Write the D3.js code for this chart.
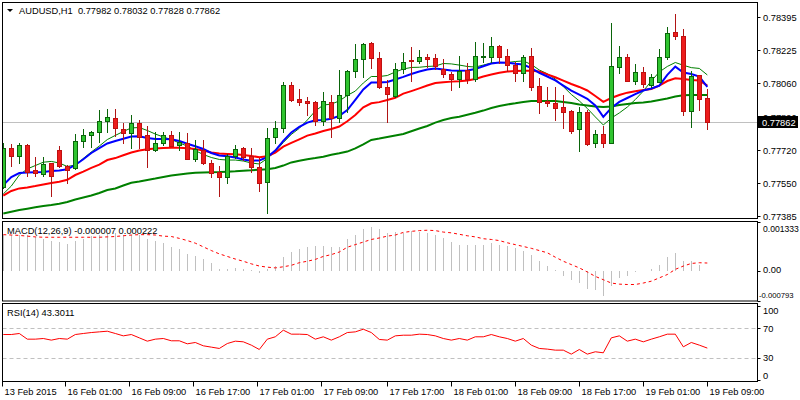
<!DOCTYPE html>
<html><head><meta charset="utf-8">
<script src="https://cdn.jsdelivr.net/npm/d3@7"></script>
<style>
body{margin:0;background:#fff}
svg{display:block}
text{font-family:"Liberation Sans",Arial,sans-serif;font-size:9.3px;fill:#000;white-space:pre}
</style>
</head><body>
<svg id="c" width="800" height="400"></svg>
<script>
// ---------- DATA ----------
const symbol = "AUDUSD,H1";
const lastOHLC = ["0.77982","0.78032","0.77828","0.77862"];
const macdTitle = "MACD(12,26,9) -0.000007 0.000222";
const rsiTitle = "RSI(14) 43.3011";

const open = [0.77532,0.77730,0.77691,0.77745,0.77619,0.77597,0.77652,0.77720,0.77640,0.77627,
0.77764,0.77796,0.77813,0.77867,0.77882,0.77827,0.77805,0.77856,0.77796,0.77720,
0.77758,0.77796,0.77744,0.77754,0.77676,0.77720,0.77652,0.77610,0.77582,0.77691,
0.77729,0.77691,0.77632,0.77556,0.77788,0.77830,0.78050,0.77979,0.77969,0.77965,
0.77869,0.77965,0.77881,0.77999,0.78121,0.78180,0.78261,0.78185,0.78038,0.77994,
0.78130,0.78178,0.78173,0.78190,0.78185,0.78130,0.78106,0.78080,0.78126,0.78079,
0.78190,0.78193,0.78248,0.78197,0.78151,0.78112,0.78197,0.78045,0.77970,0.77960,
0.77940,0.77918,0.77827,0.77913,0.77757,0.77800,0.77758,0.78140,0.78190,0.78072,
0.78114,0.78050,0.78067,0.78193,0.78317,0.78299,0.77920,0.78099,0.77982];
const high = [0.77756,0.77751,0.77754,0.77751,0.77684,0.77686,0.77654,0.77740,0.77646,0.77801,
0.77827,0.77816,0.77923,0.77928,0.77928,0.77856,0.77898,0.77872,0.77842,0.77811,
0.77813,0.77816,0.77813,0.77808,0.77771,0.77771,0.77669,0.77639,0.77700,0.77745,
0.77734,0.77729,0.77679,0.77830,0.77869,0.78067,0.78067,0.78028,0.77990,0.77970,
0.78016,0.77999,0.78126,0.78126,0.78258,0.78261,0.78267,0.78216,0.78075,0.78163,
0.78214,0.78241,0.78227,0.78207,0.78207,0.78180,0.78116,0.78197,0.78163,0.78268,
0.78261,0.78292,0.78253,0.78231,0.78168,0.78202,0.78236,0.78084,0.78038,0.78038,
0.77999,0.77923,0.77940,0.77923,0.77822,0.77842,0.78366,0.78248,0.78207,0.78155,
0.78143,0.78106,0.78233,0.78346,0.78410,0.78333,0.78122,0.78101,0.78032];
const low = [0.77527,0.77640,0.77652,0.77590,0.77588,0.77590,0.77488,0.77632,0.77554,0.77624,
0.77737,0.77737,0.77762,0.77810,0.77793,0.77754,0.77732,0.77730,0.77635,0.77715,
0.77745,0.77738,0.77720,0.77672,0.77666,0.77649,0.77582,0.77488,0.77554,0.77678,
0.77669,0.77610,0.77513,0.77399,0.77754,0.77813,0.77969,0.77948,0.77898,0.77847,
0.77847,0.77785,0.77864,0.77914,0.78092,0.78089,0.78138,0.78035,0.77864,0.77989,
0.78109,0.78072,0.78160,0.78140,0.78130,0.78092,0.78024,0.78038,0.78058,0.78072,
0.78168,0.78168,0.78160,0.78122,0.78072,0.78072,0.78024,0.77909,0.77943,0.77872,
0.77830,0.77808,0.77717,0.77745,0.77734,0.77734,0.77756,0.78112,0.78070,0.78055,
0.78038,0.78040,0.78065,0.78180,0.78283,0.77898,0.77838,0.77923,0.77828];
const close = [0.77730,0.77691,0.77745,0.77608,0.77605,0.77647,0.77590,0.77640,0.77621,0.77764,
0.77796,0.77813,0.77867,0.77886,0.77830,0.77805,0.77856,0.77788,0.77720,0.77754,
0.77796,0.77742,0.77761,0.77673,0.77724,0.77652,0.77605,0.77585,0.77691,0.77724,
0.77683,0.77632,0.77551,0.77779,0.77830,0.78050,0.77974,0.77965,0.77957,0.77869,
0.77969,0.77881,0.77999,0.78121,0.78180,0.78256,0.78185,0.78038,0.78003,0.78130,
0.78168,0.78173,0.78190,0.78180,0.78146,0.78104,0.78080,0.78122,0.78080,0.78197,
0.78197,0.78248,0.78193,0.78150,0.78112,0.78193,0.78041,0.77965,0.77957,0.77935,
0.77914,0.77818,0.77911,0.77749,0.77800,0.77754,0.78146,0.78190,0.78072,0.78114,
0.78053,0.78092,0.78190,0.78312,0.78300,0.77920,0.78096,0.77977,0.77862];

const maBlue = [0.77542,0.77583,0.77603,0.77606,0.77607,0.77608,0.77613,0.77616,0.77622,0.77644,
0.77673,0.77705,0.77730,0.77753,0.77766,0.77777,0.77788,0.77790,0.77781,0.77776,
0.77776,0.77775,0.77766,0.77752,0.77739,0.77725,0.77705,0.77692,0.77688,0.77682,
0.77672,0.77666,0.77667,0.77684,0.77717,0.77766,0.77809,0.77837,0.77859,0.77871,
0.77872,0.77879,0.77893,0.77923,0.77974,0.78027,0.78063,0.78062,0.78065,0.78078,
0.78091,0.78106,0.78118,0.78129,0.78133,0.78129,0.78124,0.78122,0.78124,0.78131,
0.78145,0.78159,0.78164,0.78163,0.78158,0.78154,0.78136,0.78111,0.78093,0.78073,
0.78047,0.78021,0.78001,0.77980,0.77946,0.77888,0.77933,0.77964,0.77984,0.78004,
0.78022,0.78032,0.78047,0.78101,0.78143,0.78113,0.78106,0.78093,0.78040];
const maRed = [0.77489,0.77512,0.77525,0.77530,0.77537,0.77545,0.77553,0.77559,0.77569,0.77593,
0.77610,0.77629,0.77646,0.77669,0.77679,0.77693,0.77707,0.77717,0.77724,0.77727,
0.77730,0.77732,0.77732,0.77729,0.77725,0.77717,0.77707,0.77702,0.77700,0.77698,
0.77695,0.77690,0.77683,0.77688,0.77707,0.77737,0.77756,0.77774,0.77793,0.77804,
0.77816,0.77827,0.77839,0.77866,0.77898,0.77937,0.77957,0.77963,0.77974,0.77985,
0.78006,0.78019,0.78033,0.78047,0.78060,0.78064,0.78067,0.78069,0.78073,0.78080,
0.78093,0.78103,0.78112,0.78118,0.78121,0.78122,0.78122,0.78118,0.78104,0.78089,
0.78072,0.78055,0.78040,0.78022,0.77994,0.77964,0.77984,0.77999,0.78011,0.78018,
0.78024,0.78030,0.78047,0.78070,0.78084,0.78080,0.78075,0.78073,0.78047];
const maDarkGreen = [0.77398,0.77407,0.77415,0.77422,0.77429,0.77436,0.77441,0.77447,0.77456,0.77469,
0.77479,0.77489,0.77502,0.77517,0.77525,0.77540,0.77554,0.77560,0.77568,0.77575,
0.77583,0.77590,0.77596,0.77601,0.77605,0.77606,0.77607,0.77608,0.77610,0.77612,
0.77615,0.77617,0.77620,0.77622,0.77629,0.77641,0.77657,0.77665,0.77673,0.77679,
0.77686,0.77696,0.77703,0.77712,0.77728,0.77748,0.77771,0.77778,0.77786,0.77794,
0.77801,0.77815,0.77829,0.77842,0.77859,0.77872,0.77882,0.77889,0.77899,0.77909,
0.77920,0.77933,0.77943,0.77951,0.77957,0.77964,0.77969,0.77969,0.77969,0.77969,
0.77964,0.77958,0.77951,0.77946,0.77941,0.77938,0.77941,0.77948,0.77953,0.77958,
0.77961,0.77966,0.77974,0.77981,0.77991,0.77998,0.77999,0.77999,0.77999];
const maThinGreen = [0.77497,0.77537,0.77593,0.77624,0.77641,0.77658,0.77662,0.77654,0.77636,0.77644,
0.77677,0.77710,0.77740,0.77773,0.77794,0.77814,0.77832,0.77834,0.77819,0.77801,
0.77786,0.77773,0.77756,0.77740,0.77717,0.77697,0.77682,0.77672,0.77669,0.77669,
0.77664,0.77654,0.77649,0.77677,0.77712,0.77758,0.77799,0.77830,0.77872,0.77918,
0.77948,0.77953,0.77969,0.77997,0.78019,0.78060,0.78093,0.78093,0.78098,0.78116,
0.78131,0.78139,0.78140,0.78144,0.78146,0.78159,0.78157,0.78151,0.78144,0.78141,
0.78151,0.78162,0.78164,0.78164,0.78169,0.78172,0.78154,0.78126,0.78107,0.78080,
0.78042,0.78002,0.77969,0.77931,0.77888,0.77847,0.77882,0.77908,0.77938,0.77976,
0.78019,0.78070,0.78116,0.78144,0.78164,0.78150,0.78138,0.78134,0.78101];

const macdHist = [0.00097,0.00099,0.00099,0.00097,0.00092,0.00086,0.00083,0.00079,0.00074,0.00083,
0.00088,0.00095,0.00097,0.00101,0.00104,0.00099,0.00099,0.00097,0.00086,0.00081,
0.00077,0.00066,0.00061,0.00047,0.00041,0.00032,0.00021,0.00007,0.00007,0.00009,
0.00005,0.00002,-0.00006,0.00007,0.00014,0.00038,0.00052,0.00061,0.00065,0.00068,
0.00069,0.00065,0.00065,0.00086,0.00099,0.00115,0.00120,0.00113,0.00104,0.00106,
0.00104,0.00108,0.00106,0.00104,0.00097,0.00090,0.00079,0.00070,0.00070,0.00070,
0.00070,0.00077,0.00072,0.00068,0.00063,0.00056,0.00043,0.00027,0.00014,0.00002,
-0.00012,-0.00025,-0.00032,-0.00047,-0.00050,-0.00068,-0.00041,-0.00018,-0.00012,-0.00001,
0.00001,0.00005,0.00018,0.00038,0.00050,0.00029,0.00029,0.00016,-0.000007];
const macdSignal = [0.00099,0.00098,0.00097,0.00095,0.00093,0.00092,0.00092,0.00092,0.00092,0.00092,
0.00092,0.00092,0.00092,0.00093,0.00094,0.00096,0.00098,0.00099,0.00099,0.00098,
0.00095,0.00094,0.00089,0.00083,0.00076,0.00066,0.00056,0.00047,0.00040,0.00033,
0.00027,0.00020,0.00014,0.00011,0.00009,0.00012,0.00016,0.00023,0.00027,0.00032,
0.00040,0.00045,0.00052,0.00065,0.00072,0.00079,0.00086,0.00090,0.00095,0.00098,
0.00105,0.00108,0.00110,0.00111,0.00110,0.00106,0.00104,0.00100,0.00096,0.00093,
0.00088,0.00086,0.00083,0.00077,0.00072,0.00067,0.00062,0.00056,0.00050,0.00038,
0.00027,0.00018,0.00009,-0.00002,-0.00014,-0.00023,-0.00032,-0.00035,-0.00036,-0.00036,
-0.00032,-0.00027,-0.00018,-0.00009,0.00005,0.00014,0.00021,0.00023,0.000222];
const rsi = [61.7,61.7,63.1,55.4,55.4,56.3,54.1,56.3,55.4,61.7,
63.1,64.4,65.3,66.2,63.1,59.9,61.7,57.2,52.7,55.4,
56.3,53.2,53.2,49.1,50.9,46.4,44.6,42.8,49.5,52.7,
51.8,47.3,41.4,55.4,58.6,67.6,62.2,62.2,61.7,55.4,
58.6,54.1,58.6,64.4,65.3,68.9,64.4,55.0,54.1,59.9,
60.8,60.8,62.2,61.7,59.9,56.3,54.1,56.3,54.1,58.6,
58.6,61.7,58.6,56.3,52.7,56.3,47.3,42.8,41.9,40.5,
40.5,35.1,41.4,35.1,38.3,36.9,57.2,59.9,52.7,55.4,
51.8,55.4,58.6,62.2,62.2,45.0,50.9,47.3,43.3011];

const priceTicks = [0.78395,0.78225,0.78060,0.77890,0.77720,0.77550,0.77385];
const priceTickLabels = ["0.78395","0.78225","0.78060","0.77890","0.77720","0.77550","0.77385"];
const macdRange = [-0.000793, 0.001333];
const macdTickLabels = ["0.001333","0.00","-0.000793"];
const rsiTicks = [100,70,30,0];
const rsiLevels = [70,30];
const timeTickBars = [0,8,16,24,32,40,48,56,64,72,80,88];
const timeTickLabels = ["13 Feb 2015","16 Feb 01:00","16 Feb 09:00","16 Feb 17:00","17 Feb 01:00","17 Feb 09:00",
"17 Feb 17:00","18 Feb 01:00","18 Feb 09:00","18 Feb 17:00","19 Feb 01:00","19 Feb 09:00"];

// ---------- LAYOUT ----------
const svg = d3.select("#c");
const L = 2.5, R = 757.5;
const P = {main:[2.5,218.5], macd:[221.5,301], rsi:[303.5,381.5]};
const n = open.length;
const x = d3.scaleLinear().domain([0, n-1]).range([3.3, 707.3]);
const y = d3.scaleLinear().domain([0.77385,0.78395]).range([216,17]);
const ym = d3.scaleLinear().domain(macdRange).range([300.5,222]);
const yr = d3.scaleLinear().domain([0,100]).range([380,306.3]);
const cx = i => Math.round(x(i));
const sn = v => Math.round(v) + 0.5;

const defs = svg.append("defs");
Object.entries(P).forEach(([k,[t,b]]) => {
  defs.append("clipPath").attr("id","clip-"+k).append("rect")
    .attr("x",L+0.5).attr("y",t+0.5).attr("width",R-L-1).attr("height",b-t-1);
});

// ---------- MAIN PANEL ----------
const gm = svg.append("g").attr("clip-path","url(#clip-main)");
gm.append("line").attr("x1",L).attr("x2",R)
  .attr("y1",sn(y(close[n-1]))).attr("y2",sn(y(close[n-1])))
  .attr("stroke","#c0c0c0").attr("stroke-width",1);

const line = (arr, ys) => d3.line().x((d,i)=>x(i)).y(d=>ys(d))(arr);
gm.append("path").attr("d",line(maDarkGreen,y)).attr("fill","none").attr("stroke","#008000").attr("stroke-width",2);
gm.append("path").attr("d",line(maThinGreen,y)).attr("fill","none").attr("stroke","#008000").attr("stroke-width",1);
gm.append("path").attr("d",line(maRed,y)).attr("fill","none").attr("stroke","#ff0000").attr("stroke-width",2);
gm.append("path").attr("d",line(maBlue,y)).attr("fill","none").attr("stroke","#0000ff").attr("stroke-width",2);

const candles = gm.append("g");
d3.range(n).forEach(i => {
  const up = close[i] >= open[i];
  const c = cx(i);
  const wick = up ? "#0a640a" : "#b01414";
  candles.append("line").attr("x1",c+0.5).attr("x2",c+0.5)
    .attr("y1",Math.round(y(high[i]))).attr("y2",Math.round(y(low[i]))+1)
    .attr("stroke",wick).attr("stroke-width",1);
  const t = Math.round(y(Math.max(open[i],close[i])));
  const b = Math.round(y(Math.min(open[i],close[i])));
  candles.append("rect").attr("x",c-1.5).attr("y",t+0.5)
    .attr("width",4).attr("height",Math.max(b-t,1))
    .attr("fill", up ? "#2fc42f" : "#ec1c1c")
    .attr("stroke", up ? "#0a640a" : "#c01010").attr("stroke-width",1);
});

// title
svg.append("path").attr("d","M7,9 L13,9 L10,12 Z").attr("fill","#000");
svg.append("text").attr("x",19).attr("y",14)
  .text(symbol + "  " + lastOHLC.join(" "));

// price axis
priceTicks.forEach((p,k) => {
  const yy = sn(y(p));
  svg.append("line").attr("x1",R).attr("x2",R+3).attr("y1",yy).attr("y2",yy).attr("stroke","#000");
  svg.append("text").attr("x",763).attr("y",yy+3.5).text(priceTickLabels[k]);
});
const cy = sn(y(close[n-1]));
svg.append("rect").attr("x",758).attr("y",cy-6.5).attr("width",40).attr("height",12).attr("fill","#000");
svg.append("text").attr("x",762).attr("y",cy+3.5).style("fill","#fff").text(lastOHLC[3]);

// ---------- MACD PANEL ----------
const gmacd = svg.append("g").attr("clip-path","url(#clip-macd)");
macdHist.forEach((v,i) => {
  gmacd.append("line").attr("x1",cx(i)+0.5).attr("x2",cx(i)+0.5)
    .attr("y1",Math.round(ym(0))).attr("y2",Math.round(ym(v)))
    .attr("stroke","#c0c0c0").attr("stroke-width",1);
});
gmacd.append("path").attr("d",line(macdSignal,ym)).attr("fill","none")
  .attr("stroke","#ff0000").attr("stroke-width",1).attr("stroke-dasharray","3,3");
svg.append("text").attr("x",7).attr("y",234).text(macdTitle);
[[macdRange[1],9.5,8.6,763],[0,2,9.3,763],[macdRange[0],-2.5,7.7,759]].forEach(([v,off,fs,tx],k) => {
  const yy = ym(v) + off;
  svg.append("line").attr("x1",R).attr("x2",R+3).attr("y1",sn(ym(v))).attr("y2",sn(ym(v))).attr("stroke","#000");
  svg.append("text").attr("x",tx).attr("y",yy).style("font-size",fs+"px").text(macdTickLabels[k]);
});

// ---------- RSI PANEL ----------
const gr = svg.append("g").attr("clip-path","url(#clip-rsi)");
rsiLevels.forEach(l => {
  gr.append("line").attr("x1",L).attr("x2",R).attr("y1",sn(yr(l))).attr("y2",sn(yr(l)))
    .attr("stroke","#c0c0c0").attr("stroke-dasharray","4,3");
});
gr.append("path").attr("d",line(rsi,yr)).attr("fill","none").attr("stroke","#ff0000").attr("stroke-width",1);
svg.append("text").attr("x",7).attr("y",316).text(rsiTitle);
rsiTicks.forEach(t => {
  const off = t===100 ? 8 : (t===0 ? -1.5 : 3.5);
  svg.append("line").attr("x1",R).attr("x2",R+3).attr("y1",sn(yr(t))).attr("y2",sn(yr(t))).attr("stroke","#000");
  svg.append("text").attr("x",763).attr("y",yr(t)+off).text(String(t));
});

// ---------- FRAMES ----------
Object.values(P).forEach(([t,b]) => {
  svg.append("rect").attr("x",L).attr("y",t).attr("width",R-L).attr("height",b-t)
    .attr("fill","none").attr("stroke","#000").attr("stroke-width",1);
});

// ---------- TIME AXIS ----------
timeTickBars.forEach((bi,k) => {
  const c = Math.max(cx(bi) - (bi < 48 ? 2 : 0), 2);
  svg.append("line").attr("x1",c+0.5).attr("x2",c+0.5).attr("y1",P.rsi[1]).attr("y2",P.rsi[1]+5)
    .attr("stroke","#000");
  svg.append("text").attr("x",c+2.5).attr("y",394.5).text(timeTickLabels[k]);
});
</script>
</body></html>
